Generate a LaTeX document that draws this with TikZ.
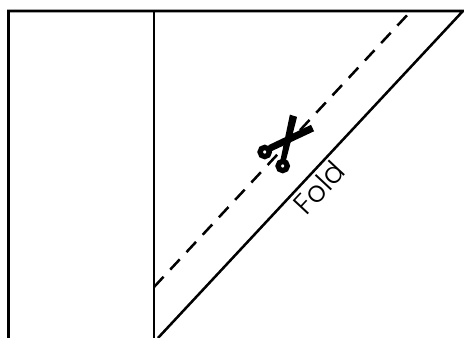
\documentclass[tikz,border=0pt]{standalone}
\usepackage{fontspec}
\newfontfamily\foldfont[UprightFont=* Light]{Poppins}
\tikzset{
  edgeline/.style={line width=1.9pt},
  cutline/.style={line width=1.9pt, dash pattern=on 0.37cm off 0.26cm},
  shears/.style={line width=4pt},
}
\begin{document}
\begin{tikzpicture}
  \useasboundingbox (0,0) rectangle (12.277cm,8.943cm);
  % outline of the sheet
  \draw[edgeline] (0.225cm,0) -- (0.225cm,8.652cm) -- (12.25cm,8.652cm) -- (4.18cm,0);
  \draw[edgeline] (4.075cm,0) -- (4.075cm,8.652cm);
  \draw[cutline] (4.075cm,1.349cm) -- (10.875cm,8.652cm);
  % scissors
  \draw[shears] (7.004cm,4.921cm) circle (0.122cm);
  \draw[shears] (7.48cm,4.551cm) circle (0.122cm);
  \fill (7.10cm,5.10cm) -- (7.18cm,4.94cm) -- (8.31cm,5.47cm) -- (8.23cm,5.64cm) -- cycle;
  \fill (7.42cm,4.71cm) -- (7.57cm,4.71cm) -- (7.86cm,5.85cm) -- (7.67cm,5.91cm) -- cycle;
  \node[rotate=47, font=\foldfont\fontsize{22pt}{22pt}\selectfont] (foldlabel) at (8.44cm,3.98cm) {Fold};
\end{tikzpicture}
\end{document}
